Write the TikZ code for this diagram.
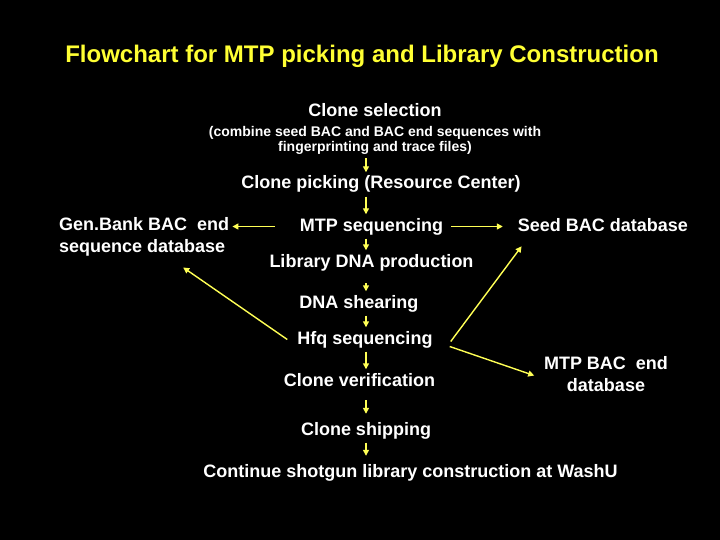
\documentclass[tikz,border=0pt]{standalone}
\usepackage{fontspec}
\setmainfont{Liberation Sans}
\usetikzlibrary{positioning,arrows.meta}

\definecolor{titleyellow}{RGB}{255,255,51}
\definecolor{arrowyellow}{RGB}{255,255,85}

\begin{document}
\begin{tikzpicture}[x=1pt, y=-1pt,
    nodes = {align = center, text = white, inner sep = 3pt},
    stepnode/.style = {anchor = base, text height = 13.5pt, text depth = 4.5pt,
      font = \bfseries\fontsize{18}{21}\selectfont},
    dbnode/.style = {font = \bfseries\fontsize{18}{21.5}\selectfont},
    arr/.style = {-{Triangle[length=6pt, width=6pt]}, arrowyellow,
      line width = 1.4pt}]
    \fill[black] (0,0) rectangle (720,540);
    \coordinate (axis) at (366,0);

    \node (title) [anchor=base, text=titleyellow,
    font=\bfseries\fontsize{24}{28}\selectfont] at (362,63)
    {Flowchart for MTP picking and Library Construction};

    \node (sel) [stepnode] at (375,117) {Clone selection};
    \node (seldesc) [anchor=base, font=\bfseries\fontsize{14}{15}\selectfont]
    at (375,152) {(combine seed BAC and BAC end sequences with\\
      fingerprinting and trace files)};

    \node (pick) [stepnode] at (381,189) {Clone picking (Resource Center)};
    \node (mtp) [stepnode] at (371.5,231) {MTP sequencing};
    \node (lib) [stepnode] at (371.5,267) {Library DNA production};
    \node (shear) [stepnode] at (359,308) {DNA shearing};
    \node (hfq) [stepnode] at (365,344) {Hfq sequencing};
    \node (ver) [stepnode] at (359.5,386) {Clone verification};
    \node (ship) [stepnode] at (366,435) {Clone shipping};
    \node (cont) [stepnode] at (410.5,477)
    {Continue shotgun library construction at WashU};

    \node (gen) [dbnode, anchor=base west, align=left] at (56,252)
    {Gen.Bank BAC~ end\\sequence database};
    \node (seed) [stepnode] at (603,231) {Seed BAC database};
    \node (mtpend) [dbnode, anchor=base] at (606,391)
    {MTP BAC~ end\\database};

    % main line
    \draw[arr] (seldesc.south -| axis) -- (pick.north -| axis);
    \draw[arr] (pick.south -| axis) -- (mtp.north -| axis);
    \draw[arr] (mtp.south -| axis) -- (lib.north -| axis);
    \draw[arr, shorten <=8.5pt] (lib.south -| axis) -- (shear.north -| axis);
    \draw[arr] (shear.south -| axis) -- (hfq.north -| axis);
    \draw[arr] (hfq.south -| axis) -- (ver.north -| axis);
    \draw[arr, shorten <=6.5pt, shorten >=4.5pt] (ver.south -| axis) -- (ship.north -| axis);
    \draw[arr, shorten >=4.5pt] (ship.south -| axis) -- (cont.north -| axis);

    % side branches
    \draw[arr, shorten <=22pt] (mtp.west) -- (mtp.west -| gen.east);
    \draw[arr, shorten <=5pt, shorten >=12pt] (mtp.east) -- (seed.west);
    \draw[arr, shorten >=15pt] ([xshift=-7pt]hfq.west) -- (gen.-40);
    \draw[arr, shorten >=9.5pt] ([xshift=15pt,yshift=-2pt]hfq.east)
    -- ([xshift=12.5pt]seed.south west);
    \draw[arr, shorten >=7pt] ([xshift=14pt,yshift=-7pt]hfq.east)
    -- ([yshift=-4pt]mtpend.west);
\end{tikzpicture}
\end{document}
